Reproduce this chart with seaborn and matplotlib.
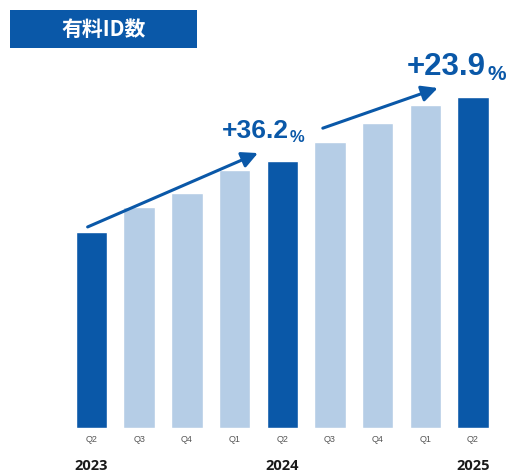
import matplotlib
matplotlib.use("Agg")
import matplotlib.pyplot as plt
import matplotlib.transforms as mtransforms
import seaborn as sns
import pandas as pd

# ---- data (relative index, 2023 Q2 = 100) ----
quarters = ["Q2", "Q3", "Q4", "Q1", "Q2", "Q3", "Q4", "Q1", "Q2"]
values = [100.0, 112.7, 119.9, 131.6, 136.2, 145.9, 155.6, 164.8, 168.8]
kinds = ["yoy", "mid", "mid", "mid", "yoy", "mid", "mid", "mid", "yoy"]
year_labels = ["2023", "2024", "2025"]
year_positions = [0, 4, 8]
growth_labels = ["+36.2", "+23.9"]
title = "有料ID数"

dark = "#0a58a8"
light = "#b5cde6"

sns.set_theme(style="white")
plt.rcParams["font.family"] = ["Liberation Sans", "Noto Sans CJK JP", "DejaVu Sans"]

W, H = 528, 474
fig = plt.figure(figsize=(W / 100, H / 100), dpi=100)
fig.patch.set_facecolor("white")

def px(x0, y0, x1, y1):
    return [x0 / W, 1 - y1 / H, (x1 - x0) / W, (y1 - y0) / H]

ax = fig.add_axes(px(67.6, 20, 496.9, 428))

df = pd.DataFrame({"idx": list(range(len(values))), "value": values, "kind": kinds})
sns.barplot(data=df, x="idx", y="value", hue="kind", palette={"yoy": dark, "mid": light},
            dodge=False, width=0.66, legend=False, ax=ax, saturation=1)
ax.set_xlim(-0.5, 8.5)
ax.set_ylim(0, 208.2)
for s in ax.spines.values():
    s.set_visible(False)
ax.set_yticks([])
ax.set_xlabel("")
ax.set_ylabel("")
ax.set_xticks(range(len(quarters)))
ax.set_xticklabels(quarters, fontsize=6.5, color="#555555")
ax.tick_params(axis="x", length=0, pad=5)

trans = mtransforms.blended_transform_factory(ax.transData, fig.transFigure)
for yl, xp in zip(year_labels, year_positions):
    ax.text(xp, 1 - 466 / H, yl, transform=trans, ha="center", va="center",
            fontsize=10.5, fontweight="bold", color="#1a1a1a",
            family=["Open Sans", "Liberation Sans", "DejaVu Sans"])

# growth arrows
arrow_kw = dict(arrowstyle="-|>,head_length=0.8,head_width=0.4", color=dark, lw=2.2,
                shrinkA=0, shrinkB=0)
ax.annotate("", xy=(3.49, 140.3), xytext=(-0.08, 102.6), arrowprops=arrow_kw)
ax.annotate("", xy=(7.26, 173.5), xytext=(4.85, 153.0), arrowprops=arrow_kw)

# growth labels
t1 = fig.text(222 / W, 1 - 138 / H, growth_labels[0], fontsize=19, fontweight="bold",
              color=dark, ha="left", va="baseline")
ax.annotate("%", xy=(1, 0), xycoords=t1, xytext=(0.5, -1.5), textcoords="offset points",
            fontsize=12, fontweight="bold", color=dark, va="bottom", ha="left")
t2 = fig.text(407 / W, 1 - 75 / H, growth_labels[1], fontsize=22.5, fontweight="bold",
              color=dark, ha="left", va="baseline")
ax.annotate("%", xy=(1, 0), xycoords=t2, xytext=(1, -1.5), textcoords="offset points",
            fontsize=15, fontweight="bold", color=dark, va="bottom", ha="left")

# title box
box_ax = fig.add_axes(px(10, 10, 197, 48))
box_ax.set_facecolor(dark)
box_ax.set_xticks([]); box_ax.set_yticks([])
for s in box_ax.spines.values():
    s.set_visible(False)
box_ax.text(0.5, 0.5, title, ha="center", va="center", color="white", fontsize=15,
            fontweight="bold", family=["Noto Sans CJK JP", "DejaVu Sans"],
            transform=box_ax.transAxes)

fig.savefig("out.png", dpi=100, facecolor="white")
